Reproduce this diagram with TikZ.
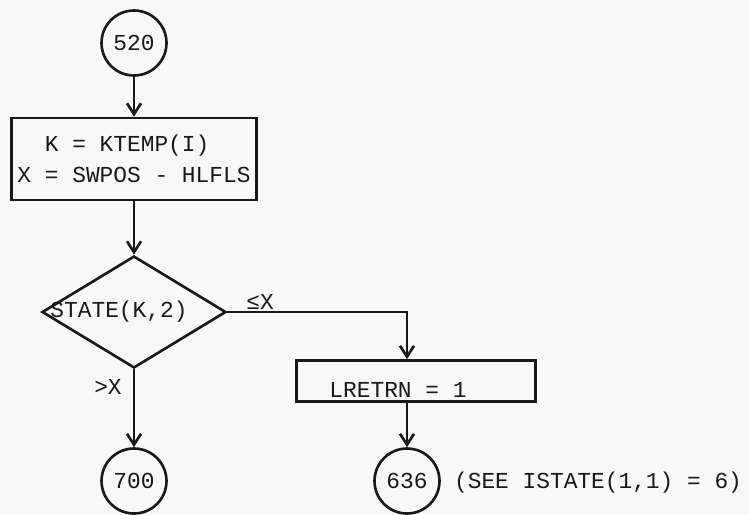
\documentclass[tikz,border=0pt]{standalone}
\usepackage{fontspec}
\newfontfamily\typefont{Liberation Mono}
\usepackage{tikz}
\usetikzlibrary{
  shapes.geometric,
  arrows.meta,
  positioning
}
\definecolor{InkGray}  {RGB}{25, 25, 25}
\definecolor{PaperGray}{RGB}{248, 248, 248}

\begin{document}
\begin{tikzpicture}[
  x=0.02cm, y=-0.02cm,
  font=\typefont\fontsize{13}{18}\selectfont,
  text=InkGray,
  conn/.style={
    draw=InkGray, circle,
    line width=1.5pt,
    minimum size=1.3cm, inner sep=0pt
  },
  proc/.style={
    draw=InkGray, line width=1.5pt,
    minimum width=4.8cm,
    minimum height=1.64cm,
    align=left
  },
  decide/.style={
    draw=InkGray, diamond,
    line width=1.5pt, inner sep=0pt,
    minimum width=3.68cm,
    minimum height=2.24cm
  },
  arrow/.style={
    -{Straight Barb[length=2.2mm, width=2.8mm]},
    line width=1.5pt, InkGray}
]
\useasboundingbox[fill=PaperGray] (0,0) rectangle (749,514);

\node[conn] (c520) at (134,43) {520};

\node[proc] (b1) at (134,159)
  {\hphantom{XX}K = KTEMP(I)\\
   X = SWPOS - HLFLS};

\node[decide, label={[xshift=-0.3cm]center:STATE(K,2)}]
  (dec) at (134,312) {};

\node[proc, minimum height=0.82cm, minimum width=4.78cm,
  label={[xshift=-0.36cm, yshift=-0.18cm]center:LRETRN = 1}]
  (b2) at (416,381) {};

\node[conn] (c700) at (134,481) {700};
\node[conn] (c636) at (407,481) {636};

\node[anchor=west, inner sep=1pt] (note) at (452,483)
  {(SEE ISTATE(1,1) = 6)};

\node (le) at (260,302) {≤X};
\node (gt) at (108,387) {>X};

\foreach \a/\b in {c520/b1,b1/dec,dec/c700}{
  \draw[arrow] (\a.south) -- (\b.north);
}
\draw[arrow] (dec.east) -| (b2.north -| c636);
\draw[arrow] (b2.south -| c636) -- (c636.north);
\end{tikzpicture}
\end{document}
